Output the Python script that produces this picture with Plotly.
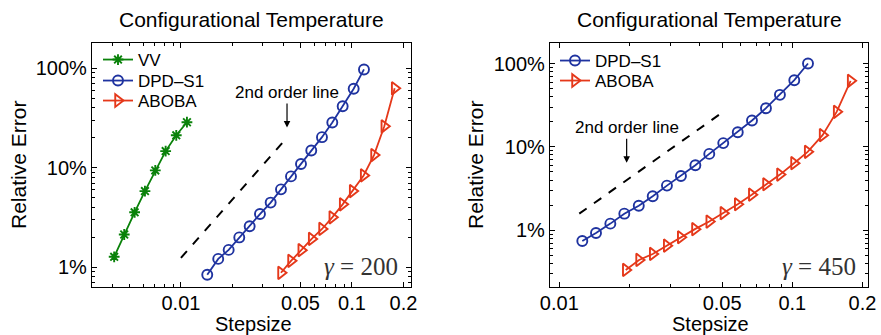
import numpy as np
import plotly.graph_objects as go

# ---------------- data (left panel, gamma = 200) ----------------
vv_x = [0.00407, 0.00466, 0.00536, 0.00616, 0.00708, 0.00814, 0.00939, 0.01084]
vv_y = [1.27, 2.13, 3.56, 5.82, 9.4, 14.7, 21.2, 28.7]

dpd_l_x = [0.01425, 0.01652, 0.01901, 0.02193, 0.02522, 0.02897, 0.03346, 0.03845,
           0.04399, 0.05033, 0.0578, 0.06676, 0.07671, 0.0882, 0.1023, 0.1175]
dpd_l_y = [0.837, 1.21, 1.49, 1.99, 2.58, 3.42, 4.46, 6.06,
           8.18, 10.9, 14.9, 20.3, 28.5, 41.5, 62.4, 97.5]

aboba_l_x = [0.03845, 0.0440, 0.0505, 0.0581, 0.0668, 0.0767, 0.0882, 0.1009,
             0.117, 0.1345, 0.1545, 0.1776]
aboba_l_y = [0.877, 1.156, 1.48, 1.92, 2.42, 3.17, 4.28, 5.82,
             8.37, 13.4, 26.1, 62.9]

order_l_x = [0.0100, 0.0406]
order_l_y = [1.24, 19.1]

# ---------------- data (right panel, gamma = 450) ----------------
dpd_r_x = [0.01255, 0.01437, 0.01656, 0.01901, 0.02193, 0.02517, 0.02897, 0.03327,
           0.03837, 0.04402, 0.05055, 0.05834, 0.06714, 0.07709, 0.0885, 0.102, 0.1168]
dpd_r_y = [0.744, 0.928, 1.20, 1.58, 1.97, 2.56, 3.43, 4.48,
           6.03, 8.24, 11.1, 15.0, 20.7, 29.1, 42.1, 63.1, 100.0]

aboba_r_x = [0.01928, 0.02199, 0.02517, 0.0289, 0.0332, 0.0382, 0.044, 0.0506,
             0.0583, 0.0670, 0.0771, 0.0885, 0.1017, 0.1164, 0.1349, 0.155, 0.178]
aboba_r_y = [0.334, 0.440, 0.519, 0.653, 0.824, 1.03, 1.27, 1.60,
             2.05, 2.67, 3.56, 4.65, 6.37, 8.71, 13.8, 26.3, 62.0]

order_r_x = [0.01218, 0.04894]
order_r_y = [1.58, 24.7]

x_tickvals = [0.01, 0.05, 0.1, 0.2]
x_ticktext = ["0.01", "0.05", "0.1", "0.2"]
x_minor = [0.003, 0.004, 0.005, 0.006, 0.007, 0.008, 0.009,
           0.02, 0.03, 0.04, 0.06, 0.07, 0.08, 0.09]
y_tickvals = [1, 10, 100]
y_ticktext = ["1%", "10%", "100%"]
y_minor = [0.3, 0.4, 0.5, 0.6, 0.7, 0.8, 0.9, 2, 3, 4, 5, 6, 7, 8, 9,
           20, 30, 40, 50, 60, 70, 80, 90]

GREEN = "#0a820a"
BLUE = "#1f33a0"
RED = "#e5381a"
FONT = "Liberation Sans, Arial, sans-serif"

fig = go.Figure()

def add_series(x, y, name, color, symbol, size, xa, ya, legend, show=True):
    fig.add_trace(go.Scatter(
        x=x, y=y, name=name, mode="lines+markers",
        line=dict(color=color, width=1.8),
        marker=dict(symbol=symbol, size=size, color=color,
                    line=dict(color=color, width=1.9)),
        xaxis=xa, yaxis=ya, legend=legend, showlegend=show))

add_series(vv_x, vv_y, "VV", GREEN, "asterisk-open", 9, "x", "y", "legend")
add_series(dpd_l_x, dpd_l_y, "DPD\u2013S1", BLUE, "circle-open", 10, "x", "y", "legend2")
add_series(aboba_l_x, aboba_l_y, "ABOBA", RED, "triangle-right-open", 11, "x", "y", "legend3")
fig.add_trace(go.Scatter(x=order_l_x, y=order_l_y, mode="lines",
                         line=dict(color="black", width=2, dash="dash"),
                         xaxis="x", yaxis="y", showlegend=False))

add_series(dpd_r_x, dpd_r_y, "DPD\u2013S1", BLUE, "circle-open", 10, "x2", "y2", "legend4")
add_series(aboba_r_x, aboba_r_y, "ABOBA", RED, "triangle-right-open", 11, "x2", "y2", "legend5")
fig.add_trace(go.Scatter(x=order_r_x, y=order_r_y, mode="lines",
                         line=dict(color="black", width=2, dash="dash"),
                         xaxis="x2", yaxis="y2", showlegend=False))

W, H = 881, 335

def xaxis(domain, rng):
    return dict(type="log", domain=domain, range=rng,
                tickmode="array", tickvals=x_tickvals, ticktext=x_ticktext,
                ticks="inside", ticklen=5, tickcolor="black", tickwidth=1,
                minor=dict(tickmode="array", tickvals=x_minor, ticks="inside",
                           ticklen=3, tickcolor="black", tickwidth=1, showgrid=False),
                showline=True, linecolor="black", linewidth=1.2, mirror="allticks",
                showgrid=False, zeroline=False, automargin=False,
                ticklabelstandoff=-2,
                tickfont=dict(family=FONT, size=20, color="black"))

def yaxis(domain, rng, anchor):
    return dict(type="log", domain=domain, range=rng, anchor=anchor,
                tickmode="array", tickvals=y_tickvals, ticktext=y_ticktext,
                ticks="inside", ticklen=5, tickcolor="black", tickwidth=1,
                minor=dict(tickmode="array", tickvals=y_minor, ticks="inside",
                           ticklen=3, tickcolor="black", tickwidth=1, showgrid=False),
                showline=True, linecolor="black", linewidth=1.2, mirror="allticks",
                showgrid=False, zeroline=False, automargin=False,
                tickfont=dict(family=FONT, size=20, color="black"))

def legend_at(px, py):
    return dict(x=px / W, y=1 - py / H, xanchor="left", yanchor="middle",
                bgcolor="rgba(0,0,0,0)", font=dict(family=FONT, size=17, color="black"),
                itemwidth=30, borderwidth=0)

ydom = [1 - 287 / H, 1 - 42.5 / H]
fig.update_layout(
    width=W, height=H, margin=dict(l=0, r=0, t=0, b=0),
    paper_bgcolor="white", plot_bgcolor="white",
    xaxis=xaxis([92 / W, 411 / W], [-2.52, -0.655]) | dict(anchor="y"),
    yaxis=yaxis(ydom, [-0.20, 2.26], "x"),
    xaxis2=xaxis([550 / W, 868 / W], [-2.040, -0.675]) | dict(anchor="y2"),
    yaxis2=yaxis(ydom, [-0.681, 2.252], "x2"),
    legend=legend_at(98, 60),
    legend2=legend_at(98, 81),
    legend3=legend_at(98, 101),
    legend4=legend_at(555, 61),
    legend5=legend_at(555, 81),
    showlegend=True,
)

ann = []
# titles
for cx in [251.5, 709]:
    ann.append(dict(text="Configurational Temperature", x=cx / W, y=1 - 19 / H,
                    xref="paper", yref="paper", showarrow=False,
                    font=dict(family=FONT, size=21, color="black"),
                    xanchor="center", yanchor="middle"))
    ann.append(dict(text="Stepsize", x=(cx + 1.5) / W, y=1 - 324 / H,
                    xref="paper", yref="paper", showarrow=False,
                    font=dict(family=FONT, size=20, color="black"),
                    xanchor="center", yanchor="middle"))
for lx in [18, 475]:
    ann.append(dict(text="Relative Error", x=lx / W, y=1 - 165 / H,
                    xref="paper", yref="paper", showarrow=False, textangle=-90,
                    font=dict(family=FONT, size=21, color="black"),
                    xanchor="center", yanchor="middle"))
# 2nd order line annotations (log coordinates)
ann.append(dict(text="2nd order line", x=np.log10(0.0417), y=1.404, xref="x", yref="y",
                ax=0, ay=-35, showarrow=True, arrowhead=2, arrowsize=1.1, arrowwidth=1.2,
                arrowcolor="black", font=dict(family=FONT, size=17, color="black")))
ann.append(dict(text="2nd order line", x=-1.711, y=0.808, xref="x2", yref="y2",
                ax=0, ay=-35, showarrow=True, arrowhead=2, arrowsize=1.1, arrowwidth=1.2,
                arrowcolor="black", font=dict(family=FONT, size=17, color="black")))
# gamma labels
for rx, txt in [(400, "<i>γ</i> = 200"), (858, "<i>γ</i> = 450")]:
    ann.append(dict(text=txt, x=rx / W, y=1 - 266 / H, xref="paper", yref="paper",
                    showarrow=False, xanchor="right", yanchor="middle",
                    font=dict(family="Liberation Serif, Times New Roman, serif", size=25,
                              color="#333333")))
fig.update_layout(annotations=ann)

fig.write_html("out.html")
